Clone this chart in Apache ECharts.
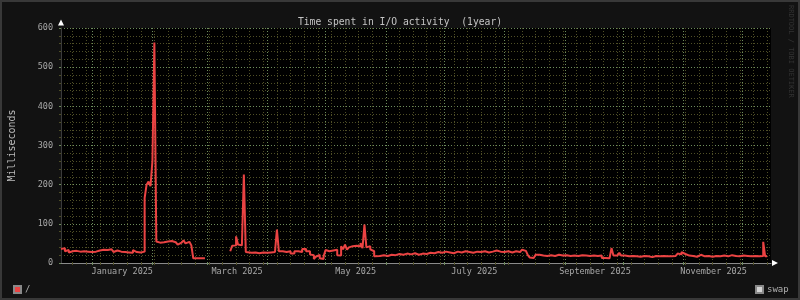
<!DOCTYPE html>
<html>
<head>
<meta charset="utf-8">
<script src="https://cdn.jsdelivr.net/npm/echarts@6/dist/echarts.min.js"></script>
<style>
html,body{margin:0;padding:0;background:#121212;}
#c{width:800px;height:300px;}
</style>
</head>
<body>
<div id="c"></div>
<script>
// ---- data (time spent in I/O activity, ms) ----
const dates = [
'2024-12-16','2024-12-17','2024-12-18','2024-12-19','2024-12-20','2024-12-21','2024-12-22','2024-12-23','2024-12-24','2024-12-25',
'2024-12-26','2024-12-27','2024-12-28','2024-12-29','2024-12-30','2024-12-31','2025-01-01','2025-01-02','2025-01-03','2025-01-04',
'2025-01-05','2025-01-06','2025-01-07','2025-01-08','2025-01-09','2025-01-10','2025-01-11','2025-01-12','2025-01-13','2025-01-14',
'2025-01-15','2025-01-16','2025-01-17','2025-01-18','2025-01-19','2025-01-20','2025-01-21','2025-01-22','2025-01-23','2025-01-24',
'2025-01-25','2025-01-26','2025-01-27','2025-01-28','2025-01-29','2025-01-30','2025-01-31','2025-02-01','2025-02-02','2025-02-03',
'2025-02-04','2025-02-05','2025-02-06','2025-02-07','2025-02-08','2025-02-09','2025-02-10','2025-02-11','2025-02-12','2025-02-13',
'2025-02-14','2025-02-15','2025-02-16','2025-02-17','2025-02-18','2025-02-19','2025-02-20','2025-02-21','2025-02-22','2025-02-24',
'2025-02-27','2025-02-28',
'2025-03-13','2025-03-14','2025-03-15','2025-03-16','2025-03-17','2025-03-18','2025-03-19','2025-03-20','2025-03-21','2025-03-22',
'2025-03-24','2025-03-26','2025-03-28','2025-03-30','2025-04-01','2025-04-03','2025-04-05','2025-04-06','2025-04-07','2025-04-09',
'2025-04-11','2025-04-13','2025-04-15','2025-04-17','2025-04-19','2025-04-21','2025-04-23','2025-04-24','2025-04-25','2025-04-26',
'2025-04-27','2025-04-28','2025-04-29','2025-04-30','2025-05-01','2025-05-02','2025-05-03','2025-05-04','2025-05-05','2025-05-06',
'2025-05-07','2025-05-08','2025-05-09','2025-05-10','2025-05-11','2025-05-12','2025-05-13','2025-05-14','2025-05-15','2025-05-16',
'2025-05-17','2025-05-18','2025-05-19','2025-05-20','2025-05-21','2025-05-22','2025-05-23','2025-05-24','2025-05-25','2025-05-26',
'2025-05-27','2025-05-29','2025-05-31','2025-06-02','2025-06-04','2025-06-06','2025-06-08','2025-06-10','2025-06-12','2025-06-14',
'2025-06-16','2025-06-18','2025-06-20','2025-06-22','2025-06-24','2025-06-26','2025-06-28','2025-06-30','2025-07-02','2025-07-04',
'2025-07-06','2025-07-08','2025-07-10','2025-07-12','2025-07-14','2025-07-16','2025-07-18','2025-07-20','2025-07-22','2025-07-24',
'2025-07-26','2025-07-28','2025-07-30','2025-08-01','2025-08-03','2025-08-05','2025-08-07','2025-08-09','2025-08-10','2025-08-11',
'2025-08-12','2025-08-13','2025-08-14','2025-08-15','2025-08-16','2025-08-17','2025-08-19','2025-08-21','2025-08-23','2025-08-25',
'2025-08-27','2025-08-29','2025-08-31','2025-09-02','2025-09-04','2025-09-06','2025-09-08','2025-09-10','2025-09-12','2025-09-14',
'2025-09-16','2025-09-18','2025-09-20','2025-09-22','2025-09-24','2025-09-25','2025-09-26','2025-09-28','2025-09-29','2025-09-30',
'2025-10-02','2025-10-04','2025-10-06','2025-10-08','2025-10-10','2025-10-12','2025-10-14','2025-10-16','2025-10-18','2025-10-20',
'2025-10-22','2025-10-24','2025-10-26','2025-10-28','2025-10-29','2025-10-30','2025-10-31','2025-11-01','2025-11-02','2025-11-04',
'2025-11-06','2025-11-08','2025-11-10','2025-11-12','2025-11-14','2025-11-16','2025-11-18','2025-11-20','2025-11-22','2025-11-24',
'2025-11-26','2025-11-28','2025-11-30','2025-12-02','2025-12-04','2025-12-06','2025-12-08','2025-12-10','2025-12-12','2025-12-13',
'2025-12-14'
];
const rootValues = [
36,38,30,33,27,30,28,31,28,29,
27,30,28,29,31,28,33,29,27,32,
28,34,30,33,29,35,30,28,32,36,
29,33,28,31,27,30,26,33,28,30,
27,31,29,166,200,208,196,260,563,55,
52,55,53,58,55,60,56,57,53,54,
47,52,55,58,50,54,57,45,12,12,
12,null,
30,44,45,68,47,45,50,226,28,26,
27,25,27,26,27,28,29,85,30,28,
30,24,30,28,36,30,22,20,10,16,
21,12,10,17,33,30,35,32,36,34,
20,19,43,35,47,34,40,43,42,44,
46,42,51,38,98,40,43,35,30,17,
18,20,18,21,20,23,21,24,22,25,
21,24,23,26,25,28,26,29,27,25,
29,27,30,28,26,29,28,30,27,29,
32,29,28,30,27,30,28,31,34,31,
26,20,14,13,17,21,19,18,20,18,
21,19,20,18,19,18,20,19,18,19,
18,19,13,12,13,38,19,18,26,19,
17,18,17,16,18,17,15,18,17,18,
17,17,18,21,24,22,28,23,19,18,
16,21,17,18,16,18,17,19,17,20,
18,17,19,18,17,18,17,18,54,17,
17
];
const swapValues = [];
const legendNames = ['/', 'swap'];
const xMin = '2024-12-16';
const xMax = '2025-12-16';
const monthStarts = ['2025-01-01','2025-02-01','2025-03-01','2025-04-01','2025-05-01','2025-06-01',
  '2025-07-01','2025-08-01','2025-09-01','2025-10-01','2025-11-01','2025-12-01'];
const labelDates = ['2025-01-16 12:00','2025-03-16 12:00','2025-05-16 12:00','2025-07-16 12:00','2025-09-16 12:00','2025-11-16 12:00'];
const labelTexts = ['January 2025','March 2025','May 2025','July 2025','September 2025','November 2025'];

// ---- helpers ----
function ts(s){
  const m = s.match(/(\d+)-(\d+)-(\d+)(?:\s+(\d+):(\d+))?/);
  return new Date(+m[1], +m[2]-1, +m[3], m[4]?+m[4]:0, m[5]?+m[5]:0).getTime();
}
const weekTicks = [];
for (let d = new Date(2024, 11, 22); d.getTime() < ts(xMax); d.setDate(d.getDate()+7)) weekTicks.push(d.getTime());
const monthTicks = monthStarts.map(ts);
const labelTicks = labelDates.map(ts);

const FONT = 'DejaVu Sans Mono';
const MINOR = '#4e4e26';
const MAJOR = '#6d8c5c';
const RED = '#ea4343';

const chart = echarts.init(document.getElementById('c'), null, {renderer:'canvas'});
const baseX = {type:'value', min: ts(xMin), max: ts(xMax), position:'bottom', gridIndex:0, scale:true};
chart.setOption({
  backgroundColor:'#121212',
  animation:false,
  title:{text:'Time spent in I/O activity  (1year)', left:'center', top:12,
    textStyle:{fontFamily:FONT, fontSize:9.7, fontWeight:'normal', color:'#c4c4c4'}},
  grid:{left:61, right:29, top:28, bottom:37, show:true, backgroundColor:'#000', borderWidth:0, containLabel:false, outerBoundsMode:'none'},
  legend:[
    {data:[legendNames[0]], left:13, top:285, padding:0, icon:'rect', itemWidth:7, itemHeight:7,
      textStyle:{fontFamily:FONT, fontSize:9, color:'#b0b0b0', padding:[0,0,0,-1]}},
    {data:[legendNames[1]], left:755, top:285, padding:0, icon:'rect', itemWidth:7, itemHeight:7,
      textStyle:{fontFamily:FONT, fontSize:9, color:'#b0b0b0', padding:[0,0,0,-1]}}
  ],
  xAxis:[
    Object.assign({}, baseX, {
      axisLine:{show:true, lineStyle:{color:'#8a8a8a', width:1}},
      axisTick:{show:true, customValues:weekTicks, length:2, lineStyle:{color:MINOR}},
      axisLabel:{show:false, customValues:weekTicks},
      splitLine:{show:true, lineStyle:{color:MINOR, type:[1,2], width:1}}
    }),
    Object.assign({}, baseX, {
      axisLine:{show:false},
      axisTick:{show:true, customValues:monthTicks, length:2, lineStyle:{color:MAJOR}},
      axisLabel:{show:false, customValues:monthTicks},
      splitLine:{show:true, lineStyle:{color:MAJOR, type:[1,2], width:1}}
    }),
    Object.assign({}, baseX, {
      axisLine:{show:false},
      axisTick:{show:false},
      splitLine:{show:false},
      axisLabel:{show:true, customValues:labelTicks, margin:4, hideOverlap:false,
        fontFamily:FONT, fontSize:8.5, color:'#a8a8a8',
        formatter:function(v){ const i = labelTicks.indexOf(v); return i>=0 ? labelTexts[i] : ''; }}
    })
  ],
  yAxis:{type:'value', min:0, max:600, interval:100,
    name:'Milliseconds', nameLocation:'middle', nameGap:44, nameRotate:90,
    nameTextStyle:{fontFamily:FONT, fontSize:10, color:'#bdbdbd'},
    axisLine:{show:true, lineStyle:{color:'#3a3a3a'}},
    axisTick:{show:true, length:2, lineStyle:{color:MAJOR}},
    minorTick:{show:true, splitNumber:5, length:2, lineStyle:{color:MINOR}},
    axisLabel:{fontFamily:FONT, fontSize:8.5, color:'#a8a8a8', margin:8},
    splitLine:{show:true, lineStyle:{color:MAJOR, type:[1,2], width:1}},
    minorSplitLine:{show:true, lineStyle:{color:MINOR, type:[1,2], width:1}}
  },
  series:[
    {name:legendNames[0], type:'line', xAxisIndex:0, step:'end', showSymbol:false, connectNulls:false,
      data: dates.map((d,i)=>[ts(d), rootValues[i]]),
      lineStyle:{color:RED, width:2}, itemStyle:{color:RED, borderColor:'#888', borderWidth:1}, z:5},
    {name:legendNames[1], type:'line', xAxisIndex:0, showSymbol:false,
      data: swapValues, lineStyle:{color:'#d4d4d4', width:2}, itemStyle:{color:'#d4d4d4', borderColor:'#888', borderWidth:1}}
  ],
  graphic:[
    {type:'rect', shape:{x:1, y:1, width:798, height:298}, style:{fill:'none', stroke:'#383838', lineWidth:2}, silent:true},
    {type:'polygon', shape:{points:[[58,25.5],[64,25.5],[61,19.5]]}, style:{fill:'#ffffff'}, silent:true, z:10},
    {type:'polygon', shape:{points:[[772,260],[772,266],[778,263]]}, style:{fill:'#ffffff'}, silent:true, z:10},
    {type:'text', x:787, y:5, rotation:-Math.PI/2, silent:true,
      style:{text:'RRDTOOL / TOBI OETIKER', fontFamily:FONT, fontSize:7, fill:'#333333', textAlign:'left', textVerticalAlign:'bottom'}}
  ]
});
</script>
</body>
</html>
